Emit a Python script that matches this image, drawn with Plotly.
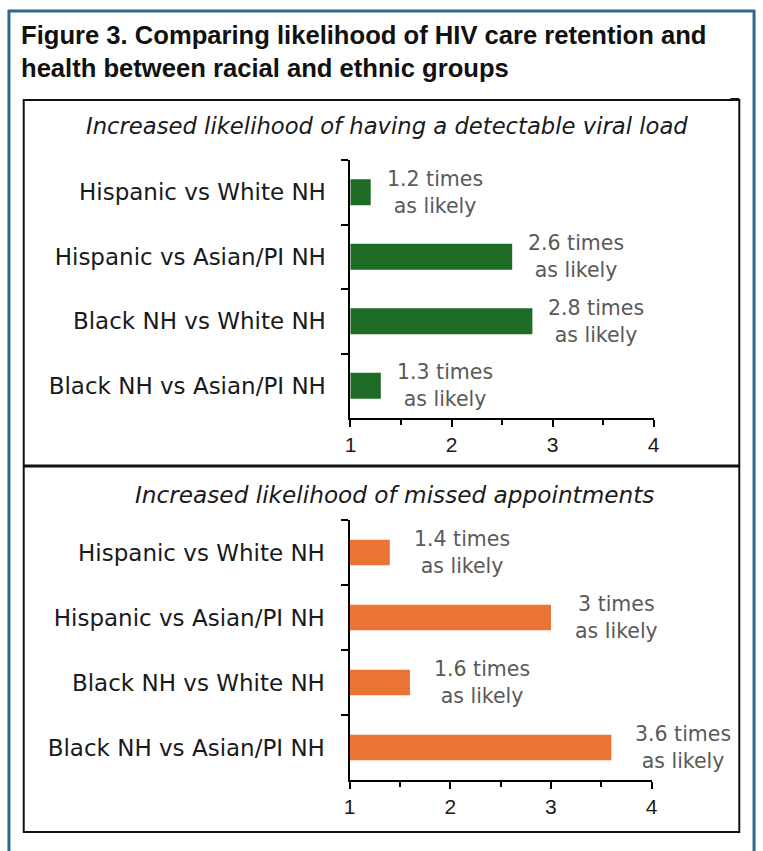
import plotly.graph_objects as go

# ---------------- data ----------------
categories = ["Hispanic vs White NH", "Hispanic vs Asian/PI NH",
              "Black NH vs White NH", "Black NH vs Asian/PI NH"]
viral_load = [1.2, 2.6, 2.8, 1.3]
missed_appts = [1.4, 3.0, 1.6, 3.6]
x_ticks = [1, 2, 3, 4]
title_text = "Figure 3. Comparing likelihood of HIV care retention and<br>health between racial and ethnic groups"
sub_top = "Increased likelihood of having a detectable viral load"
sub_bottom = "Increased likelihood of missed appointments"

# ---------------- layout helpers ----------------
W, H = 763, 851
def px(x):
    return x / W
def py(y):
    return 1 - y / H

GREEN = "#1e6b26"
ORANGE = "#ea7434"
LABEL_GRAY = "#595959"
CAT_FONT = "DejaVu Sans"
VAL_FONT = "DejaVu Sans"

def fmt(v):
    s = ("%g" % v)
    return f"{s} times<br>as likely"

fig = go.Figure()
fig.add_trace(go.Bar(y=categories, x=viral_load, orientation="h",
                     marker=dict(color=GREEN, line=dict(width=0)), width=0.4,
                     xaxis="x", yaxis="y", hoverinfo="skip", showlegend=False))
fig.add_trace(go.Bar(y=categories, x=missed_appts, orientation="h",
                     marker=dict(color=ORANGE, line=dict(width=0)), width=0.39,
                     xaxis="x2", yaxis="y2", hoverinfo="skip", showlegend=False))

annotations = []
for cat, v in zip(categories, viral_load):
    annotations.append(dict(x=v, y=cat, xref="x", yref="y", text=fmt(v),
                            showarrow=False, xanchor="left", yanchor="middle",
                            xshift=14, align="center",
                            font=dict(family=VAL_FONT, size=20.5, color=LABEL_GRAY)))
for cat, v in zip(categories, missed_appts):
    annotations.append(dict(x=v, y=cat, xref="x2", yref="y2", text=fmt(v),
                            showarrow=False, xanchor="left", yanchor="middle",
                            xshift=22, align="center",
                            font=dict(family=VAL_FONT, size=20.5, color=LABEL_GRAY)))

annotations.append(dict(x=px(13), y=py(19), xref="paper", yref="paper",
                        text="<b>" + title_text.replace("<br>", "</b><br><b>") + "</b>",
                        showarrow=False, xanchor="left", yanchor="top", align="left",
                        font=dict(family="Liberation Sans, Arial", size=25.6, color="#111111")))
annotations.append(dict(x=px(387), y=py(126), xref="paper", yref="paper",
                        text="<i>" + sub_top + "</i>", showarrow=False,
                        xanchor="center", yanchor="middle",
                        font=dict(family=CAT_FONT, size=22.7, color="#1a1a1a")))
annotations.append(dict(x=px(395), y=py(494), xref="paper", yref="paper",
                        text="<i>" + sub_bottom + "</i>", showarrow=False,
                        xanchor="center", yanchor="middle",
                        font=dict(family=CAT_FONT, size=23.2, color="#1a1a1a")))

xaxis_common = dict(range=[1, 4], tickvals=x_ticks, ticktext=[str(t) for t in x_ticks],
                    showline=True, linecolor="black", linewidth=2,
                    ticks="outside", ticklen=7, tickwidth=2, tickcolor="black",
                    minor=dict(dtick=0.5, tick0=1, ticks="outside", ticklen=5, tickwidth=2, tickcolor="black"),
                    showgrid=False, zeroline=False, fixedrange=True,
                    tickfont=dict(family="Liberation Sans, Arial", size=21, color="#1a1a1a"))
yaxis_common = dict(type="category", categoryorder="array", categoryarray=categories,
                    autorange="reversed", showline=True, linecolor="black", linewidth=2,
                    ticks="outside", ticklen=7, tickwidth=2, tickcolor="black",
                    tickson="boundaries", showgrid=False, zeroline=False, fixedrange=True,
                    ticklabelstandoff=18,
                    tickfont=dict(family=CAT_FONT, size=23, color="#1a1a1a"))

fig.update_layout(
    width=W, height=H, margin=dict(l=0, r=0, t=0, b=0),
    paper_bgcolor="white", plot_bgcolor="rgba(0,0,0,0)",
    showlegend=False,
    xaxis=dict(domain=[px(350), px(658)], anchor="y", **xaxis_common),
    yaxis=dict(domain=[py(418), py(160)], anchor="x", **yaxis_common),
    xaxis2=dict(domain=[px(349), px(656)], anchor="y2", **xaxis_common),
    yaxis2=dict(domain=[py(780), py(520)], anchor="x2", **yaxis_common),
    annotations=annotations,
    shapes=[
        # outer blue frame
        dict(type="line", xref="paper", yref="paper", x0=px(3), x1=px(3), y0=py(10), y1=0,
             line=dict(color="#2b6a8e", width=3)),
        dict(type="line", xref="paper", yref="paper", x0=px(2), x1=px(761), y0=py(11), y1=py(11),
             line=dict(color="#2b6a8e", width=3)),
        dict(type="line", xref="paper", yref="paper", x0=px(760), x1=px(760), y0=py(10), y1=0,
             line=dict(color="#2b6a8e", width=3)),
        # inner black box
        dict(type="rect", xref="paper", yref="paper", x0=px(18), x1=px(745), y0=py(832), y1=py(100),
             line=dict(color="#111111", width=2)),
        dict(type="line", xref="paper", yref="paper", x0=px(18), x1=px(745), y0=py(466), y1=py(466),
             line=dict(color="#111111", width=3)),
        dict(type="line", xref="paper", yref="paper", x0=px(736), x1=px(745), y0=py(99), y1=py(99),
             line=dict(color="#111111", width=2)),
    ],
)

fig.write_html("out.html")
